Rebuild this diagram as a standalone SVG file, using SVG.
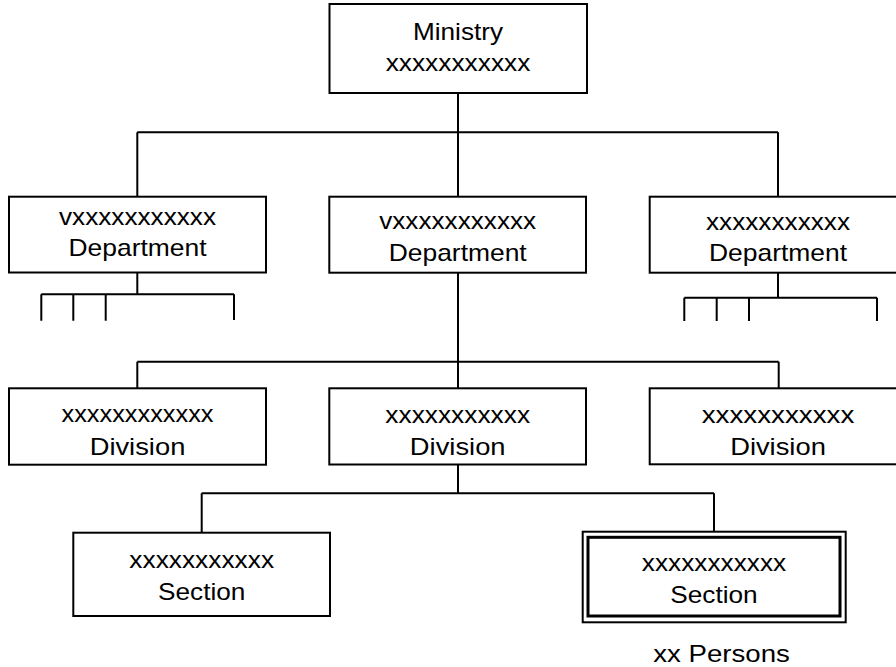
<svg xmlns="http://www.w3.org/2000/svg" width="896" height="667" viewBox="0 0 896 667">
<style>
.box{fill:#fff;stroke:#000;stroke-width:2}
.inner{fill:none;stroke:#000;stroke-width:3}
.con{fill:none;stroke:#000;stroke-width:2}
text{font-family:"Liberation Sans",Arial,sans-serif;font-size:24px;fill:#000;text-anchor:middle}
</style>
<rect width="896" height="667" fill="#fff"/>
<g id="connectors">
<path class="con" d="M458 93V132.3M137.3 132.3H778M137.3 132.3V196.7M458 132.3V196.7M778 132.3V196.7"/>
<path class="con" d="M137.3 272.5V294.3M41.3 294.3H234M41.3 294.3V320.7M73.3 294.3V320.7M105.7 294.3V320.7M234 294.3V320"/>
<path class="con" d="M778 272.7V297.7M684.3 297.7H877M684.3 297.7V321M716.7 297.7V321M749 297.7V321M877 297.7V321"/>
<path class="con" d="M458 272.7V388.3M137.3 361.7H778.7M137.3 361.7V388.3M778.7 361.7V388.3"/>
<path class="con" d="M458 464.5V493.3M201.7 493.3H714M201.7 493.3V532.7M714 493.3V531.7"/>
</g>
<g id="ministry">
<rect class="box" x="329.5" y="4" width="257.5" height="89"/>
<text x="458" y="39.5" textLength="90" lengthAdjust="spacingAndGlyphs">Ministry</text>
<text x="458" y="71" textLength="144.7" lengthAdjust="spacingAndGlyphs">xxxxxxxxxxx</text>
</g>
<g id="dept-left">
<rect class="box" x="9" y="196.7" width="257" height="75.8"/>
<text x="137.5" y="225" textLength="157" lengthAdjust="spacingAndGlyphs">vxxxxxxxxxxx</text>
<text x="137.5" y="256" textLength="138" lengthAdjust="spacingAndGlyphs">Department</text>
</g>
<g id="dept-middle">
<rect class="box" x="329.3" y="196.7" width="256.7" height="76"/>
<text x="457.7" y="229.3" textLength="157" lengthAdjust="spacingAndGlyphs">vxxxxxxxxxxx</text>
<text x="457.7" y="260.7" textLength="138" lengthAdjust="spacingAndGlyphs">Department</text>
</g>
<g id="dept-right">
<rect class="box" x="649.7" y="196.7" width="257" height="76"/>
<text x="778" y="230" textLength="144" lengthAdjust="spacingAndGlyphs">xxxxxxxxxxx</text>
<text x="778" y="260.5" textLength="138" lengthAdjust="spacingAndGlyphs">Department</text>
</g>
<g id="div-left">
<rect class="box" x="9" y="388.3" width="257" height="76.4"/>
<text x="137.5" y="421.7" textLength="152" lengthAdjust="spacingAndGlyphs">xxxxxxxxxxxx</text>
<text x="137.5" y="455" textLength="95.7" lengthAdjust="spacingAndGlyphs">Division</text>
</g>
<g id="div-middle">
<rect class="box" x="329.3" y="388.3" width="256.7" height="76.2"/>
<text x="457.7" y="422.5" textLength="144.7" lengthAdjust="spacingAndGlyphs">xxxxxxxxxxx</text>
<text x="457.7" y="455" textLength="95.7" lengthAdjust="spacingAndGlyphs">Division</text>
</g>
<g id="div-right">
<rect class="box" x="649.7" y="388.3" width="257" height="76"/>
<text x="778" y="423.3" textLength="152.6" lengthAdjust="spacingAndGlyphs">xxxxxxxxxxx</text>
<text x="778" y="455" textLength="95.7" lengthAdjust="spacingAndGlyphs">Division</text>
</g>
<g id="section-left">
<rect class="box" x="73.3" y="532.7" width="256.7" height="83.3"/>
<text x="201.7" y="568.3" textLength="144.7" lengthAdjust="spacingAndGlyphs">xxxxxxxxxxx</text>
<text x="201.7" y="600" textLength="87.3" lengthAdjust="spacingAndGlyphs">Section</text>
</g>
<g id="section-right">
<rect class="box" x="582.7" y="531.7" width="263" height="90.6"/>
<rect class="inner" x="588" y="537.3" width="252" height="78.7"/>
<text x="714" y="571" textLength="144.3" lengthAdjust="spacingAndGlyphs">xxxxxxxxxxx</text>
<text x="714" y="602.7" textLength="87.3" lengthAdjust="spacingAndGlyphs">Section</text>
<text x="721.5" y="661.7" textLength="136.7" lengthAdjust="spacingAndGlyphs">xx Persons</text>
</g>
</svg>
